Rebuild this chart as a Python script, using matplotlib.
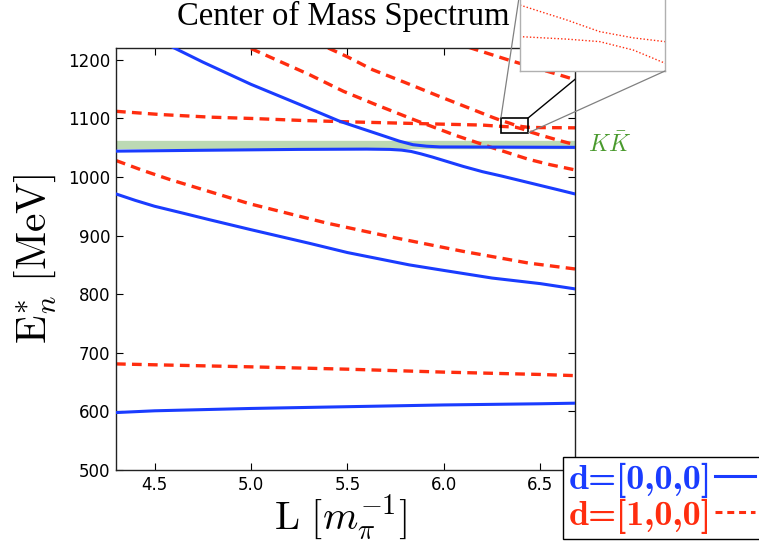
import matplotlib
matplotlib.use('Agg')
import matplotlib.pyplot as plt
from matplotlib.lines import Line2D
from matplotlib.patches import Rectangle, ConnectionPatch
import matplotlib.transforms as mtransforms

plt.rcParams['mathtext.fontset'] = 'cm'
plt.rcParams['lines.scale_dashes'] = False

# ---------------- data ----------------
# d=[0,0,0] levels (solid blue)
b1_L = [4.3, 4.5, 5.0, 5.5, 6.0, 6.5, 6.68]
b1_E = [598, 601, 605, 608, 611, 613, 614]

b2_L = [4.3, 4.4, 4.5, 4.65, 4.785, 5.0, 5.3, 5.5, 5.82, 6.0, 6.25, 6.5, 6.68]
b2_E = [971, 960, 950, 938, 927, 910, 887, 871, 850, 840.5, 827.5, 818, 809]

b3_L = [4.3, 4.75, 5.25, 5.6, 5.72, 5.78, 5.83, 5.88, 5.94, 6.0, 6.1, 6.2, 6.3, 6.4, 6.5, 6.6, 6.68]
b3_E = [1044, 1045.5, 1047, 1047.5, 1047, 1045.8, 1043.5, 1039.5, 1034, 1028, 1018, 1009, 1001.5, 993.5, 985.5, 977.5, 971]

b4_L = [4.59, 4.75, 5.0, 5.25, 5.46, 5.56, 5.67, 5.77, 5.84, 5.91, 5.98, 6.2, 6.68]
b4_E = [1222, 1196, 1158, 1124, 1095, 1084, 1072, 1061, 1055, 1052.5, 1051.2, 1051, 1050.5]

# d=[1,0,0] levels (dashed red)
r1_L = [4.3, 4.5, 5.0, 5.5, 6.0, 6.5, 6.68]
r1_E = [681, 679.5, 676, 672, 667, 663, 661]

r2_L = [4.3, 4.44, 4.58, 4.99, 5.39, 5.75, 6.1, 6.44, 6.68]
r2_E = [1028, 1011, 995.5, 954.5, 921.5, 896, 873, 853, 843]

r3_L = [4.3, 4.53, 4.79, 5.01, 5.27, 5.51, 5.75, 6.0, 6.2, 6.296, 6.342, 6.374, 6.407, 6.438, 6.5, 6.6, 6.68]
r3_E = [1112, 1106.5, 1102, 1099.7, 1096.3, 1094, 1092, 1090, 1088.5, 1086.3, 1085.5, 1084.7, 1082, 1077.8, 1071.5, 1062, 1055]

r4_L = [5.40, 5.5, 5.63, 5.8, 5.98, 6.15, 6.25, 6.296, 6.342, 6.374, 6.407, 6.438, 6.5, 6.6, 6.68]
r4_E = [1220, 1205, 1183, 1161, 1137, 1115, 1102, 1096.4, 1091.6, 1087.9, 1085.9, 1084.7, 1084.2, 1084, 1083.8]

r5_L = [5.0, 5.15, 5.3, 5.48, 5.65, 5.85, 6.06, 6.25, 6.44, 6.55, 6.68]
r5_E = [1219, 1197, 1175, 1146, 1123, 1097, 1071, 1050, 1030, 1021, 1012]

r6_L = [6.13, 6.35, 6.57, 6.68]
r6_E = [1221, 1198, 1177, 1166]

KK_threshold = 1054.5

blue_levels = [(b1_L, b1_E), (b2_L, b2_E), (b3_L, b3_E), (b4_L, b4_E)]
red_levels = [(r1_L, r1_E), (r2_L, r2_E), (r3_L, r3_E), (r4_L, r4_E), (r5_L, r5_E), (r6_L, r6_E)]

legend_labels = ['d=[0,0,0]', 'd=[1,0,0]']
x_ticks = [4.5, 5.0, 5.5, 6.0, 6.5]
y_ticks = [500, 600, 700, 800, 900, 1000, 1100, 1200]
inset_xlim = (6.296, 6.438)
inset_ylim = (1075.3, 1100.9)

# ---------------- style ----------------
BLUE = '#1a3cff'
RED = '#ff2d0f'
GREEN = '#4a9a2e'
DASH = (0, (7, 4.5))

W, H = 759, 544
fig = plt.figure(figsize=(W / 100, H / 100), dpi=100)
ax = fig.add_axes([116 / W, 1 - 470 / H, 459 / W, 422 / H])

ax.axhline(KK_threshold, color='#7ab56a', lw=6, alpha=0.5, zorder=1)
for L, E in blue_levels:
    ax.plot(L, E, color=BLUE, lw=2.2, zorder=3)
for L, E in red_levels:
    ax.plot(L, E, color=RED, lw=2.4, ls=DASH, zorder=2)

ax.set_xlim(4.3, 6.68)
ax.set_ylim(500, 1220)
ax.set_xticks(x_ticks)
ax.set_yticks(y_ticks)
ax.tick_params(direction='in', top=True, right=True, length=5, width=0.8,
               labelsize=12, pad=4)
for s in ax.spines.values():
    s.set_linewidth(1.0)
    s.set_color('#222222')

ax.set_ylabel(r'$\mathrm{E}^{*}_{n}\ [\mathrm{MeV}]$', fontsize=30)
ax.yaxis.set_label_coords(-0.125, 0.5)
ax.set_xlabel(r'$\mathrm{L}\ [m_{\pi}^{-1}]$', fontsize=29)
ax.xaxis.set_label_coords(0.49, -0.055)

fig.text(343 / W, 1 - 25 / H, 'Center of Mass Spectrum', ha='center',
         va='baseline', fontsize=23.5, family='Liberation Serif')

trans = mtransforms.blended_transform_factory(ax.transAxes, ax.transData)
ax.text(1.028, KK_threshold, r'$K\bar{K}$', transform=trans, color=GREEN,
        fontsize=17, va='center', ha='left', clip_on=False)

# zoom box in main axes
x0, x1 = inset_xlim
y0, y1 = inset_ylim
ax.add_patch(Rectangle((x0, y0), x1 - x0, y1 - y0, fill=False,
                       edgecolor='black', lw=1.2, zorder=5))
ax.plot([x1, x1 + 0.3], [y1, y1 + 0.3 * 271], color='black', lw=1.0, zorder=5)

# inset
axins = fig.add_axes([520 / W, 1 - 71 / H, 145 / W, 80 / H])
for L, E in red_levels:
    axins.plot(L, E, color=RED, lw=1.0, ls=(0, (1, 1.5)))
axins.set_xlim(*inset_xlim)
axins.set_ylim(*inset_ylim)
axins.set_xticks([])
axins.set_yticks([])
for s in axins.spines.values():
    s.set_color('#b0b0b0')
    s.set_linewidth(1.0)

for (pa, pb) in [((x0, y1), (0, 1)), ((x1, y0), (1, 0))]:
    cp = ConnectionPatch(xyA=pa, coordsA=ax.transData, xyB=pb,
                         coordsB=axins.transAxes, color='#808080', lw=0.9)
    fig.add_artist(cp)

# legend
handles = [Line2D([], [], color=BLUE, lw=2.2),
           Line2D([], [], color=RED, lw=2.2, ls=(0, (5, 3.5)))]
fig.legend(handles, legend_labels, loc='lower left',
           bbox_to_anchor=(563 / W, 5 / H), markerfirst=False, frameon=True,
           fancybox=False, edgecolor='black', framealpha=1, borderpad=0.15,
           labelspacing=0.02, handlelength=1.1, handletextpad=0.1,
           borderaxespad=0, prop={'family': 'cmb10', 'size': 26},
           labelcolor=[BLUE, RED])

fig.savefig('out.png', dpi=100)
